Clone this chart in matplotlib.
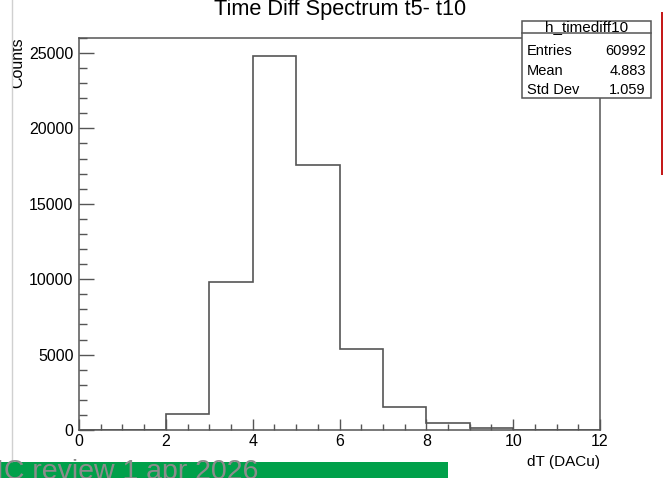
import matplotlib.pyplot as plt
from matplotlib.patches import Rectangle
from matplotlib.ticker import MultipleLocator

plt.rcParams['font.family'] = ['Liberation Sans', 'DejaVu Sans']

# histogram h_timediff10, 12 bins of width 1 from 0 to 12
bin_edges = [0, 1, 2, 3, 4, 5, 6, 7, 8, 9, 10, 11, 12]
counts = [0, 0, 1060, 9830, 24770, 17600, 5360, 1510, 445, 110, 0, 0]
stat_names = ['Entries', 'Mean', 'Std Dev']
stat_values = ['60992', '4.883', '1.059']

W, H = 664, 478
fig = plt.figure(figsize=(W / 100, H / 100), dpi=100)
ax = fig.add_axes([79 / W, 1 - 430 / H, 521 / W, (430 - 37.7) / H])

line_col = '#555555'
ax.stairs(counts, bin_edges, fill=False, color=line_col, linewidth=1.2)
ax.set_xlim(0, 12)
ax.set_ylim(0, 26010)

for s in ax.spines.values():
    s.set_color(line_col)
    s.set_linewidth(1.1)

ax.xaxis.set_major_locator(MultipleLocator(2))
ax.xaxis.set_minor_locator(MultipleLocator(0.5))
ax.yaxis.set_major_locator(MultipleLocator(5000))
ax.yaxis.set_minor_locator(MultipleLocator(1000))
ax.tick_params(axis='both', which='both', direction='in', color=line_col,
               labelsize=11.5, width=1)
ax.tick_params(axis='x', which='major', length=8, pad=3)
ax.tick_params(axis='x', which='minor', length=4)
ax.tick_params(axis='y', which='major', length=11, pad=4)
ax.tick_params(axis='y', which='minor', length=5.5)
ax.tick_params(top=False, right=False)

ax.set_xlabel('dT (DACu)', fontsize=11)
ax.xaxis.set_label_coords(1.0, -0.065)
ax.xaxis.label.set_horizontalalignment('right')

fig.text(340 / W, 1 - 15.5 / H, 'Time Diff Spectrum t5- t10', fontsize=15.7,
         ha='center', va='baseline')

# y label, partly cut by the screenshot edge
fig.text(22.5 / W, 1 - 37 / H, 'Counts', fontsize=11.5, rotation=90,
         ha='right', va='baseline', rotation_mode='anchor')
fig.patches.append(Rectangle((0, (478 - 461) / H), 11.7 / W, 1, transform=fig.transFigure,
                             facecolor='white', edgecolor='none', zorder=5))
fig.add_artist(plt.Line2D([11.7 / W, 11.7 / W], [(478 - 461) / H, 1],
                          transform=fig.transFigure, color='#d0d0d0', lw=1, zorder=6))

# stats box
bx0, bx1, by0, by1, bsep = 521.7, 650.7, 20.7, 98.3, 33.3
fig.patches.append(Rectangle((bx0 / W, 1 - by1 / H), (bx1 - bx0) / W, (by1 - by0) / H,
                             transform=fig.transFigure, facecolor='white',
                             edgecolor=line_col, lw=1.1, zorder=7))
fig.add_artist(plt.Line2D([bx0 / W, bx1 / W], [1 - bsep / H, 1 - bsep / H],
                          transform=fig.transFigure, color=line_col, lw=1.1, zorder=8))
fig.text((bx0 + bx1) / 2 / W, 1 - 27.5 / H, 'h_timediff10', fontsize=11,
         ha='center', va='center', zorder=9)
for i, (n, v) in enumerate(zip(stat_names, stat_values)):
    yy = 1 - (51 + 19.7 * i) / H
    fig.text(527 / W, yy, n, fontsize=10.5, ha='left', va='center', zorder=9)
    fig.text(646 / W, yy, v, fontsize=10.5, ha='right', va='center', zorder=9)

# red bar at the right edge
fig.patches.append(Rectangle((660.5 / W, 1 - 175 / H), 2.6 / W, 163 / H,
                             transform=fig.transFigure, facecolor='#c41a1a',
                             edgecolor='none', zorder=5))

# green footer
fig.patches.append(Rectangle((0, 0), 448 / W, (478 - 462) / H, transform=fig.transFigure,
                             facecolor='#00a04a', edgecolor='none', zorder=5))
fig.text(-4 / W, -1 / H, 'IC review 1 apr 2026', fontsize=20.5, color='#8c8c8c',
         ha='left', va='baseline', zorder=10)

fig.savefig('out.png', dpi=100, facecolor='white')
